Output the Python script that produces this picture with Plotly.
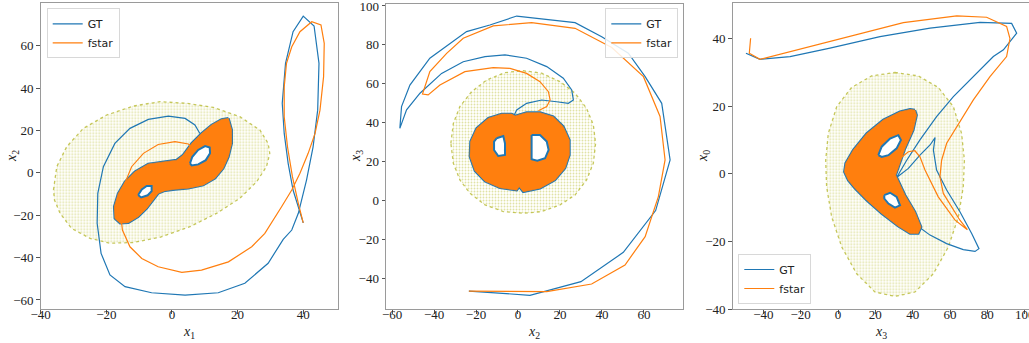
import plotly.graph_objects as go

BLUE = "#1f77b4"
ORANGE = "#ff7f0e"

# ---------------- Panel 1 : x1 vs x2 ----------------
p1_gt_x = [40.0, 36.9, 35.4, 34.2, 33.6, 34.6, 36.9, 40.0, 43.3, 44.8, 44.4, 43.0, 41.0, 38.5, 36.5, 33.9,
           29.3, 22.2, 14.1, 4.0, -6.2, -14.3, -18.9, -21.6, -22.8, -22.6, -20.9, -17.4, -12.8, -7.2, -1.1, 4.0, 7.0, 8.5]
p1_gt_y = [-23.6, -8.1, 4.5, 18.6, 32.8, 51.7, 66.6, 74.0, 69.3, 51.7, 29.6, 12.3, -3.4, -19.1, -27.0, -31.4,
           -42.7, -52.1, -56.6, -57.7, -56.6, -53.7, -48.2, -38.0, -23.8, -9.7, 2.9, 13.9, 21.0, 25.2, 26.8, 25.7, 22.6, 18.6]
p1_fs_x = [40.0, 38.5, 36.7, 35.2, 34.2, 34.2, 34.9, 36.5, 39.0, 42.6, 45.4, 46.4, 46.2, 45.1, 43.6, 41.5, 39.0,
           36.5, 33.4, 30.4, 28.3, 24.3, 17.2, 9.0, 3.0, -4.2, -9.2, -12.8, -15.1, -15.8, -14.8, -12.3, -8.7, -4.2,
           0.9, 5.0, 7.0, 7.0, 5.5]
p1_fs_y = [-23.6, -14.4, -1.8, 12.3, 26.5, 40.6, 51.7, 59.5, 66.6, 71.3, 69.8, 61.1, 45.4, 29.6, 18.6, 9.2, -0.2,
           -8.1, -16.0, -23.8, -28.6, -34.9, -42.0, -45.9, -47.0, -44.3, -40.4, -34.9, -27.0, -17.6, -6.6, 2.9, 9.2, 13.4,
           14.7, 13.6, 10.8, 6.8, 4.5]
p1_att_x = [17.2, 18.2, 18.2, 17.2, 15.6, 13.1, 9.5, 5.0, 0.9, -2.1, -4.2, -5.7, -7.7, -10.3, -13.3, -15.8, -17.4,
            -17.6, -16.4, -14.3, -11.3, -7.2, -2.1, 1.4, 3.4, 6.0, 9.0, 12.1, 15.1]
p1_att_y = [25.7, 20.2, 13.9, 7.6, 2.1, -2.6, -5.8, -7.3, -7.8, -8.4, -9.7, -12.8, -16.8, -20.7, -23.5, -23.8, -21.5,
            -16.0, -9.7, -4.2, 0.5, 4.2, 5.2, 6.0, 8.4, 13.9, 18.6, 22.6, 25.2]
p1_hole1_x = [5.5, 6.2, 8.0, 10.1, 11.5, 11.6, 10.3, 8.0, 6.0]
p1_hole1_y = [4.5, 7.6, 10.8, 12.6, 12.0, 9.2, 6.0, 4.0, 3.5]
p1_hole2_x = [-10.3, -9.2, -7.7, -6.2, -6.2, -7.4, -9.4]
p1_hole2_y = [-10.5, -7.8, -6.2, -6.2, -8.6, -10.6, -11.6]
p1_cloud_x = [-36.1, -35.1, -32.1, -27.0, -19.9, -11.8, -3.7, 4.5, 12.6, 20.7, 26.8, 29.3, 29.8, 28.8, 25.8, 20.7,
              13.6, 5.5, -3.7, -11.8, -18.9, -25.0, -30.6, -34.1, -35.8]
p1_cloud_y = [-8.0, 2.9, 12.3, 21.0, 27.3, 31.5, 33.6, 32.8, 30.9, 26.5, 20.2, 13.9, 9.2, 2.9, -4.2, -12.0,
              -19.1, -25.4, -30.4, -32.9, -33.2, -30.9, -26.2, -19.1, -12.8]

# ---------------- Panel 2 : x2 vs x3 ----------------
p2_gt_x = [-23.4, 5.7, 30.0, 50.2, 65.6, 72.5, 68.5, 60.6, 52.6, 39.9, 27.2, 12.1, -0.6, -13.4, -24.5, -42.0, -51.5,
           -55.5, -56.3, -53.1, -46.7, -36.4, -26.1, -15.7, -6.2, 4.1, 13.7, 21.6, 25.6, 26.4, 24.0, 18.4, 11.3, 4.1,
           -0.6, -2.2]
p2_gt_y = [-46.7, -48.9, -41.9, -26.8, -5.3, 20.8, 49.9, 63.6, 75.7, 84.2, 91.4, 93.1, 94.8, 90.2, 86.8, 73.1, 59.3,
           48.2, 37.0, 46.5, 55.1, 65.3, 71.3, 73.9, 74.8, 73.1, 68.8, 62.8, 56.8, 51.6, 49.9, 50.7, 51.6, 49.9,
           46.5, 43.0]
p2_fs_x = [-23.4, 13.7, 35.1, 51.0, 60.6, 66.9, 70.1, 67.7, 59.8, 44.7, 27.2, 6.5, -11.8, -26.1, -34.0, -42.0, -45.5,
           -42.8, -37.2, -25.3, -11.8, -3.8, 4.1, 10.5, 14.5, 15.3, 13.7, 9.7]
p2_fs_y = [-46.7, -47.0, -43.1, -33.3, -18.7, 1.9, 20.8, 43.1, 63.6, 78.6, 88.5, 91.4, 89.7, 83.4, 75.6, 66.2, 54.7,
           54.2, 59.3, 66.2, 68.3, 67.9, 65.3, 61.0, 55.9, 51.6, 48.2, 46.1]
p2_att_x = [-1.4, 4.1, 10.5, 16.8, 21.6, 24.5, 24.5, 22.4, 17.6, 10.5, 2.5, 0.6, -0.6, -8.6, -15.7, -20.5, -22.9,
            -22.6, -19.7, -14.1, -7.8, -3.0]
p2_att_y = [43.4, 45.1, 45.1, 43.0, 37.9, 31.0, 23.3, 16.5, 10.4, 6.2, 4.4, 7.0, 5.2, 6.4, 9.8, 15.2, 22.5,
            30.2, 37.0, 42.2, 44.4, 44.4]
p2_hole1_x = [-10.2, -7.0, -6.2, -6.2, -9.4, -11.4, -11.4]
p2_hole1_y = [31.9, 33.1, 29.3, 23.3, 22.8, 25.9, 30.2]
p2_hole2_x = [6.5, 10.5, 13.7, 14.6, 12.9, 9.2, 6.5]
p2_hole2_y = [33.6, 33.6, 30.2, 25.9, 21.6, 20.4, 21.1]
p2_cloud_x = [-32.0, -30.8, -27.7, -22.1, -14.9, -6.2, 2.5, 11.3, 20.0, 27.2, 32.7, 35.9, 37.0, 35.9, 32.7, 27.2,
              20.0, 11.3, 2.5, -7.0, -15.7, -22.9, -27.7, -30.8]
p2_cloud_y = [29.3, 39.6, 48.2, 55.9, 61.9, 65.7, 66.7, 65.4, 61.1, 55.1, 47.3, 38.8, 29.3, 19.0, 10.5, 2.7,
              -2.4, -5.8, -6.7, -5.8, -2.4, 3.6, 10.5, 19.0]

# ---------------- Panel 3 : x3 vs x0 ----------------
p3_gt_x = [-49.3, -41.8, -25.7, -4.3, 22.5, 49.3, 76.1, 93.0, 95.7, 88.6, 83.2, 72.5, 61.8, 52.8, 43.9, 36.8, 31.4,
           37.7, 43.9, 49.3, 52.0, 51.1, 52.8, 58.2, 65.3, 71.6, 75.5, 73.4, 67.1, 58.2, 49.3, 42.1, 38.6]
p3_gt_y = [35.6, 33.8, 34.6, 37.1, 40.5, 43.0, 44.7, 44.4, 41.5, 36.6, 34.6, 28.7, 22.8, 16.9, 10.0, 4.0, -1.1,
           1.6, 5.5, 8.5, 10.7, 7.0, 1.1, -4.8, -11.2, -17.6, -22.1, -22.9, -22.4, -20.6, -18.1, -15.2, -12.7]
p3_fs_x = [-46.8, -47.5, -41.8, -22.1, 4.6, 35.0, 63.6, 79.6, 90.3, 92.1, 90.3, 81.4, 72.5, 63.6, 58.2, 55.5, 54.6,
           56.4, 60.9, 65.3, 69.3, 62.7, 53.7, 46.6, 43.9, 41.2, 37.7, 33.2, 29.6]
p3_fs_y = [40.0, 35.6, 33.8, 36.6, 40.5, 44.6, 46.6, 46.2, 43.5, 39.9, 34.6, 28.7, 21.8, 13.9, 9.0, 4.0, -0.9,
           -5.8, -9.8, -13.7, -16.5, -13.7, -6.8, 1.1, 5.0, 6.8, 6.5, 4.5, 2.1]
p3_att_x = [41.2, 42.1, 40.3, 35.9, 30.9, 35.9, 41.2, 44.5, 43.0, 38.6, 32.3, 23.4, 15.4, 9.1, 5.5, 3.4, 4.1, 8.2,
            15.4, 24.3, 33.2, 38.6]
p3_att_y = [18.8, 17.3, 12.9, 7.5, -0.4, -6.3, -11.2, -15.7, -17.6, -17.6, -15.5, -11.7, -7.8, -4.3, -1.9, 0.6, 3.1,
            7.0, 11.9, 15.9, 18.3, 19.0]
p3_hole1_x = [21.6, 23.4, 27.9, 32.3, 33.7, 31.4, 27.0, 23.4]
p3_hole1_y = [5.5, 8.0, 10.4, 11.4, 10.0, 7.5, 5.5, 5.0]
p3_hole2_x = [24.8, 27.9, 31.4, 33.2, 30.5, 27.0, 24.8]
p3_hole2_y = [-6.3, -5.6, -6.8, -9.3, -10.0, -8.8, -7.3]
p3_cloud_x = [30.5, 43.0, 53.7, 61.8, 66.2, 67.7, 67.1, 64.5, 59.1, 51.1, 41.2, 30.5, 19.8, 10.0, 2.0, -3.4, -6.1,
              -6.6, -5.2, -0.7, 7.3, 18.0]
p3_cloud_y = [29.9, 28.9, 25.5, 19.8, 11.9, 4.0, -3.8, -12.7, -21.6, -29.5, -34.9, -36.2, -34.9, -29.5, -21.6,
              -12.7, -3.8, 4.0, 11.9, 19.8, 25.5, 28.9]

# ticks and axis labels
p1_xticks = [-40, -20, 0, 20, 40]
p1_yticks = [-60, -40, -20, 0, 20, 40, 60]
p2_xticks = [-60, -40, -20, 0, 20, 40, 60]
p2_yticks = [-40, -20, 0, 20, 40, 60, 80, 100]
p3_xticks = [-40, -20, 0, 20, 40, 60, 80, 100]
p3_yticks = [-40, -20, 0, 20, 40]
axis_labels = [("<i>x</i><sub>1</sub>", "<i>x</i><sub>2</sub>"),
               ("<i>x</i><sub>2</sub>", "<i>x</i><sub>3</sub>"),
               ("<i>x</i><sub>3</sub>", "<i>x</i><sub>0</sub>")]

W, H = 1029, 343


def closed(v):
    return list(v) + [v[0]]


fig = go.Figure()


def add_panel(n, cloud, att, holes, gt, fs, legend):
    ax = "" if n == 1 else str(n)
    xa, ya = "x" + ax, "y" + ax
    # yellow point cloud
    fig.add_trace(go.Scatter(
        x=closed(cloud[0]), y=closed(cloud[1]), xaxis=xa, yaxis=ya, mode="lines",
        line=dict(color="rgba(175,176,25,0.7)", width=1.3, dash="dot"),
        fill="toself", fillcolor="rgba(205,205,70,0.14)",
        fillpattern=dict(shape=".", fgcolor="rgba(180,182,30,0.8)", bgcolor="rgba(255,255,255,0)",
                         size=3, solidity=0.3, fillmode="overlay"),
        showlegend=False, hoverinfo="skip"))
    # GT trajectory + attractor
    fig.add_trace(go.Scatter(x=gt[0], y=gt[1], xaxis=xa, yaxis=ya, mode="lines",
                             line=dict(color=BLUE, width=1.2), name="GT", legend=legend))
    fig.add_trace(go.Scatter(x=closed(att[0]), y=closed(att[1]), xaxis=xa, yaxis=ya, mode="lines",
                             line=dict(color=BLUE, width=2.6), fill="toself", fillcolor=BLUE,
                             showlegend=False, hoverinfo="skip"))
    # fstar trajectory + attractor
    fig.add_trace(go.Scatter(x=fs[0], y=fs[1], xaxis=xa, yaxis=ya, mode="lines",
                             line=dict(color=ORANGE, width=1.2), name="fstar", legend=legend))
    fig.add_trace(go.Scatter(x=closed(att[0]), y=closed(att[1]), xaxis=xa, yaxis=ya, mode="lines",
                             line=dict(color=ORANGE, width=0.6), fill="toself", fillcolor=ORANGE,
                             showlegend=False, hoverinfo="skip"))
    for hx, hy in holes:
        fig.add_trace(go.Scatter(x=closed(hx), y=closed(hy), xaxis=xa, yaxis=ya, mode="lines",
                                 line=dict(color=BLUE, width=2.0), fill="toself", fillcolor="white",
                                 showlegend=False, hoverinfo="skip"))


add_panel(1, (p1_cloud_x, p1_cloud_y), (p1_att_x, p1_att_y),
          [(p1_hole1_x, p1_hole1_y), (p1_hole2_x, p1_hole2_y)],
          (p1_gt_x, p1_gt_y), (p1_fs_x, p1_fs_y), "legend")
add_panel(2, (p2_cloud_x, p2_cloud_y), (p2_att_x, p2_att_y),
          [(p2_hole1_x, p2_hole1_y), (p2_hole2_x, p2_hole2_y)],
          (p2_gt_x, p2_gt_y), (p2_fs_x, p2_fs_y), "legend2")
add_panel(3, (p3_cloud_x, p3_cloud_y), (p3_att_x, p3_att_y),
          [(p3_hole1_x, p3_hole1_y), (p3_hole2_x, p3_hole2_y)],
          (p3_gt_x, p3_gt_y), (p3_fs_x, p3_fs_y), "legend3")

SERIF = "Liberation Serif, DejaVu Serif, serif"
TICKFONT = dict(family=SERIF, size=13, color="#222")
TITLEFONT = dict(family=SERIF, size=14, color="#222")


def axis(domain, rng, ticks, anchor, standoff):
    return dict(domain=domain, range=rng, tickvals=ticks, showgrid=False, zeroline=False,
                showline=True, mirror=True, linecolor="#9a9a9a", linewidth=1,
                ticks="outside", ticklen=3.5, tickcolor="#555", tickfont=TICKFONT, automargin=False,
                ticklabelstandoff=standoff, ticklabeloverflow="allow", anchor=anchor, fixedrange=True)


def ydom(top, bot):
    return [1 - bot / H, 1 - top / H]


xdoms = [[40.7 / W, 337.7 / W], [386 / W, 682.7 / W], [732.7 / W, 1.0]]
layout = dict(
    width=W, height=H, margin=dict(l=0, r=0, t=0, b=0, autoexpand=False),
    paper_bgcolor="white", plot_bgcolor="white", showlegend=True,
    xaxis=axis(xdoms[0], [-40.0, 50.5], p1_xticks, "y", -10),
    yaxis=axis(ydom(2.7, 309.3), [-64.4, 80.3], p1_yticks, "x", 0),
    xaxis2=axis(xdoms[1], [-62.9, 78.5], p2_xticks, "y2", -10),
    yaxis2=axis(ydom(4, 309.3), [-56.1, 101.0], p2_yticks, "x2", 0),
    xaxis3=axis(xdoms[2], [-56.4, 102.3], p3_xticks, "y3", -10),
    yaxis3=axis(ydom(2.7, 309.3), [-40.0, 50.5], p3_yticks, "x3", 0),
)
legfont = dict(family="DejaVu Sans, sans-serif", size=11, color="#222")
legcommon = dict(bgcolor="rgba(255,255,255,0.85)", bordercolor="#d8d8d8", borderwidth=1, font=legfont,
                 itemwidth=30, tracegroupgap=0)
layout["legend"] = dict(x=46.7 / W, y=1 - 8.3 / H, xanchor="left", yanchor="top", **legcommon)
layout["legend2"] = dict(x=678.3 / W, y=1 - 8.3 / H, xanchor="right", yanchor="top", **legcommon)
layout["legend3"] = dict(x=738.3 / W, y=1 - 304 / H, xanchor="left", yanchor="bottom", **legcommon)

# axis titles as annotations (pixel positions from the reference)
xtitle_px = [189, 534, 881]
ytitle_px = [12, 356, 703]
ann = []
for i, (xl, yl) in enumerate(axis_labels):
    ann.append(dict(text=xl, x=xtitle_px[i] / W, y=1 - 332 / H, xref="paper", yref="paper",
                    showarrow=False, font=TITLEFONT, xanchor="center", yanchor="middle"))
    ann.append(dict(text=yl, x=ytitle_px[i] / W, y=1 - 156 / H, xref="paper", yref="paper",
                    showarrow=False, font=TITLEFONT, xanchor="center", yanchor="middle", textangle=-90))
layout["annotations"] = ann
fig.update_layout(**layout)

fig.write_html("out.html")
